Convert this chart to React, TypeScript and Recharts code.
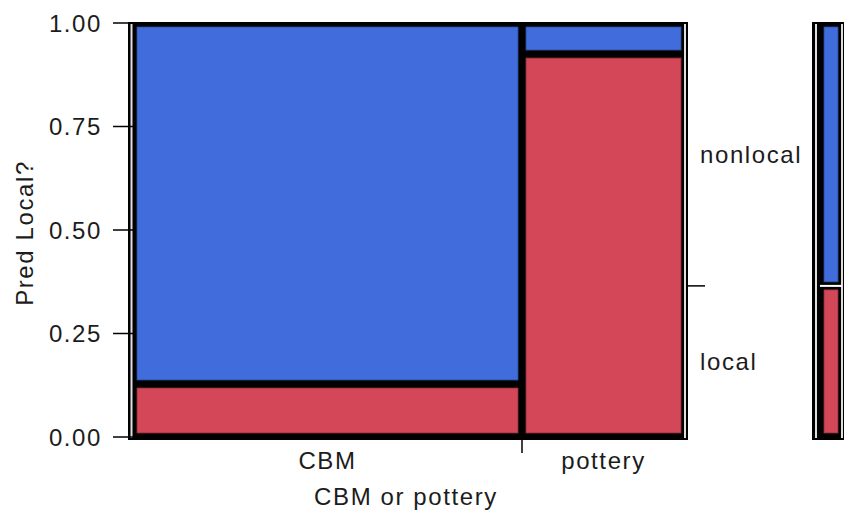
import React from 'react';
import { ComposedChart, XAxis, YAxis, ReferenceArea, ReferenceLine } from 'recharts';

// ---- data ----
const categories = ['CBM', 'pottery'];
const categoryShare = [0.7047, 0.2953];
const localShare = [0.128, 0.925];
const overallLocalShare = 0.365;
const responseLevels = ['local', 'nonlocal'];
const yTicks = [0, 0.25, 0.5, 0.75, 1];

const COLORS: Record<string, string> = { local: '#D34758', nonlocal: '#416DDC' };
const EDGE: Record<string, string> = { local: '#8f2f3b', nonlocal: '#2b4a9a' };
const FONT = '"Liberation Sans", Arial, Helvetica, sans-serif';
const TEXT = '#1c1c1c';
const FS = 24;
const LS = 1.6;

// build mosaic cells from the arrays
type Cell = { cat: string; level: string; x1: number; x2: number; y1: number; y2: number };
const cells: Cell[] = [];
const centers: number[] = [];
const boundaries: number[] = [];
{
  let x0 = 0;
  categories.forEach((c, i) => {
    const x1 = x0 + categoryShare[i];
    cells.push({ cat: c, level: 'local', x1: x0, x2: x1, y1: 0, y2: localShare[i] });
    cells.push({ cat: c, level: 'nonlocal', x1: x0, x2: x1, y1: localShare[i], y2: 1 });
    centers.push((x0 + x1) / 2);
    if (i < categories.length - 1) boundaries.push(x1);
    x0 = x1;
  });
}
const marginalCells: Cell[] = [
  { cat: 'all', level: 'local', x1: 0, x2: 1, y1: 0, y2: overallLocalShare },
  { cat: 'all', level: 'nonlocal', x1: 0, x2: 1, y1: overallLocalShare, y2: 1 },
];
const rightTicks = [overallLocalShare / 2, overallLocalShare, (overallLocalShare + 1) / 2];

const near = (a: number, b: number) => Math.abs(a - b) < 1e-6;

const CellRect = (props: any) => {
  const { x, y, width, height, level } = props;
  return (
    <rect
      x={x + 4}
      y={y + 4}
      width={Math.max(0, width - 8)}
      height={Math.max(0, height - 8)}
      fill={COLORS[level]}
      stroke={EDGE[level]}
      strokeWidth={0.8}
    />
  );
};

const FrameRect = (props: any) => {
  const { x, y, width, height, padL, padR, lightL } = props;
  return (
    <g>
      <rect x={x - padL} y={y - 1} width={width + padL + padR} height={height + 4} fill="#000" />
      <rect x={x - lightL} y={y + 1} width={2} height={height} fill="#dedede" />
      <rect x={x + width - 1} y={y + 1} width={2} height={height} fill="#dedede" />
    </g>
  );
};

const XTick = (props: any) => {
  const { x, y, payload } = props;
  const v = payload.value;
  if (boundaries.some((b) => near(b, v))) {
    return <line x1={x} x2={x} y1={y - 13} y2={y} stroke="#000" strokeWidth={1.5} />;
  }
  const idx = centers.findIndex((c) => near(c, v));
  return (
    <text x={x} y={y + 16} textAnchor="middle" fontSize={FS} fontFamily={FONT} fill={TEXT} letterSpacing={LS}>
      {categories[idx]}
    </text>
  );
};

const RightTick = (props: any) => {
  const { x, y, payload } = props;
  const v = payload.value;
  if (near(v, overallLocalShare)) {
    return <line x1={x - 17} x2={x} y1={y} y2={y} stroke="#000" strokeWidth={1.5} />;
  }
  const label = v < overallLocalShare ? responseLevels[0] : responseLevels[1];
  return (
    <text x={x - 5} y={y} dy={9} textAnchor="start" fontSize={FS} fontFamily={FONT} fill={TEXT} letterSpacing={LS}>
      {label}
    </text>
  );
};

export default function App() {
  return (
    <div style={{ position: 'absolute', left: 0, top: 0, width: 844, height: 521, background: '#fff' }}>
      <div style={{ position: 'absolute', left: 0, top: 0 }}>
        <ComposedChart width={844} height={521} data={cells} margin={{ top: 23, right: 0, bottom: 0, left: 0 }}>
          <XAxis
            type="number"
            dataKey="x1"
            domain={[0, 1]}
            allowDataOverflow
            ticks={[...centers, ...boundaries].sort((a, b) => a - b)}
            interval={0}
            tick={<XTick />}
            tickLine={false}
            axisLine={false}
            tickSize={16}
            tickMargin={0}
            height={84}
            label={{
              content: (p: any) => {
                const vb = p.viewBox;
                const cx = vb.x + vb.width / 2 - 3;
                return (
                  <text x={cx} y={505} textAnchor="middle" fontSize={FS} fontFamily={FONT} fill={TEXT} letterSpacing={LS}>
                    CBM or pottery
                  </text>
                );
              },
            }}
          />
          <YAxis
            type="number"
            domain={[0, 1]}
            allowDataOverflow
            ticks={yTicks}
            interval={0}
            tickFormatter={(v: number) => v.toFixed(2)}
            width={133}
            tickSize={20}
            tickMargin={11}
            axisLine={false}
            tickLine={{ stroke: '#000', strokeWidth: 1.5 }}
            tick={{ fill: TEXT, fontSize: FS, fontFamily: FONT, letterSpacing: LS }}
            label={{
              content: (p: any) => {
                const vb = p.viewBox;
                const cx = 33;
                const cy = vb.y + vb.height / 2 + 3;
                return (
                  <text
                    x={cx}
                    y={cy}
                    transform={`rotate(-90 ${cx} ${cy})`}
                    textAnchor="middle"
                    fontSize={FS}
                    fontFamily={FONT}
                    fill={TEXT}
                    letterSpacing={LS}
                  >
                    Pred Local?
                  </text>
                );
              },
            }}
          />
          <YAxis
            yAxisId="right"
            orientation="right"
            type="number"
            domain={[0, 1]}
            allowDataOverflow
            ticks={rightTicks}
            interval={0}
            width={159}
            tickSize={20}
            tickMargin={0}
            axisLine={false}
            tickLine={false}
            tick={<RightTick />}
          />
          <ReferenceArea
            x1={0}
            x2={1}
            y1={0}
            y2={1}
            ifOverflow="visible"
            shape={(p: any) => <FrameRect {...p} padL={5} padR={3} lightL={2.5} />}
          />
          {cells.map((c, i) => (
            <ReferenceArea
              key={i}
              x1={c.x1}
              x2={c.x2}
              y1={c.y1}
              y2={c.y2}
              ifOverflow="visible"
              shape={(p: any) => <CellRect {...p} level={c.level} />}
            />
          ))}
        </ComposedChart>
      </div>
      <div style={{ position: 'absolute', left: 0, top: 0 }}>
        <ComposedChart width={844} height={521} data={marginalCells} margin={{ top: 23, right: 2, bottom: 84, left: 820 }}>
          <XAxis type="number" dataKey="x1" domain={[0, 1]} allowDataOverflow hide />
          <YAxis type="number" domain={[0, 1]} allowDataOverflow hide />
          <ReferenceArea
            x1={0}
            x2={1}
            y1={0}
            y2={1}
            ifOverflow="visible"
            shape={(p: any) => <FrameRect {...p} padL={8} padR={3} lightL={5} />}
          />
          {marginalCells.map((c, i) => (
            <ReferenceArea
              key={i}
              x1={c.x1}
              x2={c.x2}
              y1={c.y1}
              y2={c.y2}
              ifOverflow="visible"
              shape={(p: any) => <CellRect {...p} level={c.level} />}
            />
          ))}
          <ReferenceLine y={overallLocalShare} stroke="#ffffff" strokeWidth={2} ifOverflow="visible" />
        </ComposedChart>
      </div>
    </div>
  );
}
